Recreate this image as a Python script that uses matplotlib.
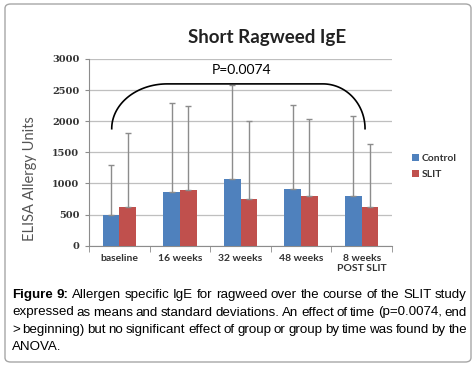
import numpy as np
import matplotlib.pyplot as plt
from matplotlib.patches import FancyBboxPatch, Patch

categories = ['baseline', '16 weeks', '32 weeks', '48 weeks', '8 weeks\nPOST SLIT']
control_mean = [490, 870, 1070, 910, 800]
control_sd = [810, 1420, 1510, 1355, 1280]
slit_mean = [620, 890, 750, 795, 625]
slit_sd = [1190, 1350, 1250, 1245, 1005]

caption = [
    [('Figure', 'bold'), ('9:', 'bold'), 'Allergen specific IgE for ragweed over the course of the SLIT study'],
    ['expressed as means and standard deviations. An effect of time (p=0.0074, end'],
    ['> beginning) but no significant effect of group or group by time was found by the'],
    ['ANOVA.'],
]

BLUE = '#4f81bd'
RED = '#c0504d'
W, H = 475, 366

fig = plt.figure(figsize=(4.75, 3.66), dpi=100)
fig.patch.set_facecolor('white')

# outer rounded frame
frame = FancyBboxPatch((5 / W, 4 / H), 466 / W, 358 / H,
                       boxstyle='round,pad=0,rounding_size=0.012',
                       transform=fig.transFigure, fill=False,
                       edgecolor='#a6a6a6', linewidth=1.0)
fig.patches.append(frame)

ax = fig.add_axes([89 / W, 1 - 245.7 / H, 303 / W, 186.7 / H])
x = np.arange(len(categories))
bw = 0.274
err_kw = dict(ecolor='#8c8c8c', elinewidth=1.0, capsize=2.5, capthick=1.0)
ax.bar(x - bw / 2, control_mean, bw, color=BLUE, zorder=3,
       yerr=[np.zeros(5), control_sd], error_kw=err_kw)
ax.bar(x + bw / 2, slit_mean, bw, color=RED, zorder=3,
       yerr=[np.zeros(5), slit_sd], error_kw=err_kw)

ax.set_xlim(-0.5, 4.5)
ax.set_ylim(0, 3000)
ax.set_yticks(range(0, 3001, 500))
ax.yaxis.grid(True, color='#bfbfbf', linewidth=0.9)
ax.set_axisbelow(True)
for s in ['top', 'right']:
    ax.spines[s].set_visible(False)
for s in ['left', 'bottom']:
    ax.spines[s].set_color('#8c8c8c')
ax.set_xticks(x)
ax.set_xticklabels(categories, fontsize=7.5, fontweight='bold', family='Lato',
                   color='#333333', linespacing=1.1)
ax.set_xticks(np.arange(-0.5, 5, 1), minor=True)
ax.tick_params(axis='x', which='major', length=0, pad=6)
ax.tick_params(axis='x', which='minor', length=4, color='#8c8c8c')
ax.tick_params(axis='y', length=3, color='#8c8c8c', pad=4)
for t in ax.get_yticklabels():
    t.set_family('DejaVu Serif')
    t.set_fontsize(7)
    t.set_fontweight('bold')
    t.set_color('#333333')

fig.text(30 / W, 1 - 179 / H, 'ELISA Allergy Units', rotation=90, ha='center', va='center',
         fontsize=10.5, family='Lato', color='#555555')
fig.text(267 / W, 1 - 37 / H, 'Short Ragweed IgE', ha='center', va='center',
         fontsize=13.5, fontweight='bold', family='Lato', color='#222222')

# bracket for the time effect
y0, y1 = 1880, 2600
xl, xa, xb, xr = -0.125, 0.79, 3.36, 4.055
t = np.linspace(np.pi, np.pi / 2, 40)
left_x = xa + (xa - xl) * np.cos(t)
left_y = y0 + (y1 - y0) * np.sin(t)
t2 = np.linspace(np.pi / 2, 0, 40)
right_x = xb + (xr - xb) * np.cos(t2)
right_y = y0 + (y1 - y0) * np.sin(t2)
ax.plot(np.r_[left_x, right_x], np.r_[left_y, right_y], color='black',
        linewidth=1.2, zorder=4, clip_on=False)
ax.text(2.02, 2830, 'P=0.0074', ha='center', va='center', fontsize=10,
        family='Lato', color='black')

handles = [Patch(facecolor=BLUE, label='Control'), Patch(facecolor=RED, label='SLIT')]
leg = ax.legend(handles=handles, loc='center left', bbox_to_anchor=(403 / W, 1 - 166.5 / H),
                bbox_transform=fig.transFigure, frameon=False, handlelength=0.65,
                handleheight=0.65, handletextpad=0.25, labelspacing=0.6,
                prop=dict(family='Lato', weight='bold', size=7.5))
for txt in leg.get_texts():
    txt.set_color('#333333')

# justified caption, words placed on a common baseline
renderer = fig.canvas.get_renderer()
left_px, right_px = 12, 467
baselines = [298, 315.5, 333, 350]
for i, line in enumerate(caption):
    words = []
    for item in line:
        if isinstance(item, tuple):
            words.append(item)
        else:
            words += [(w, 'normal') for w in item.split()]
    texts = [fig.text(0, 1 - baselines[i] / H, w, fontsize=9.6, family='Liberation Sans',
                      fontweight=wt, va='baseline', ha='left') for w, wt in words]
    widths = [tx.get_window_extent(renderer).width for tx in texts]
    if i == len(caption) - 1:
        gap = 2.7
    else:
        gap = (right_px - left_px - sum(widths)) / (len(texts) - 1)
    pos = left_px
    for tx, wd in zip(texts, widths):
        tx.set_x(pos / W)
        pos += wd + gap

fig.savefig('out.png', dpi=100)
